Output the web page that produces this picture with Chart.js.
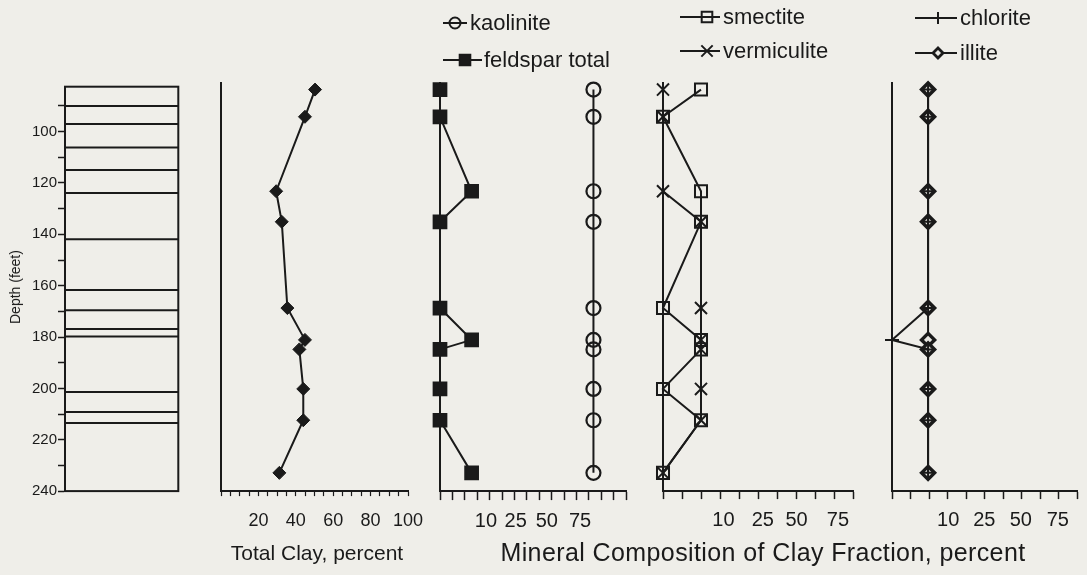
<!DOCTYPE html>
<html><head><meta charset="utf-8">
<script src="https://cdn.jsdelivr.net/npm/chart.js"></script>
<style>
html,body{margin:0;padding:0;background:#efeee9;}
#wrap{position:relative;width:1087px;height:575px;overflow:hidden;background:#efeee9;font-family:"Liberation Sans",Arial,Helvetica,sans-serif;color:#1a1a1a;}
canvas.panel{position:absolute;top:0;}
.t{position:absolute;white-space:nowrap;line-height:1;}
.leg{position:absolute;white-space:nowrap;font-size:22px;line-height:26px;height:26px;}
.leg canvas{position:absolute;left:0;top:0;}
.leg span{position:absolute;top:0;}
</style></head><body><div id="wrap"></div>
<script>
// ---------------- data ----------------
const sampleDepth   = [83.6, 94.2, 123.2, 135.1, 168.7, 181.1, 184.8, 200.2, 212.4, 232.9]; // feet
const totalClay     = [50.3, 44.9, 29.5, 32.5, 35.5, 44.9, 41.9, 44.0, 44.0, 31.2];
const feldsparTotal = [0, 0, 17, 0, 0, 17, 0, 0, 0, 17];
const kaolinite     = [82.5, 82.5, 82.5, 82.5, 82.5, 82.5, 82.5, 82.5, 82.5, 82.5];
const smectite      = [20, 0, 20, 20, 0, 20, 20, 0, 20, 0];
const vermiculite   = [0, 0, 0, 20, 20, 20, 20, 20, 20, 0];
const chlorite      = [19.5, 19.5, 19.5, 19.5, 19.5, 0, 19.5, 19.5, 19.5, 19.5];
const illite        = [19.5, 19.5, 19.5, 19.5, 19.5, 19.5, 19.5, 19.5, 19.5, 19.5];
const layerBoundaries = [90, 97, 106.2, 114.9, 123.9, 141.9, 161.7, 169.6, 176.9, 179.8, 201.4, 209.2, 213.5];
const depthTicks    = [90, 100, 110, 120, 130, 140, 150, 160, 170, 180, 190, 200, 210, 220, 230, 240];
const depthLabelled = [100, 120, 140, 160, 180, 200, 220, 240];
const clayTicks     = [0, 5, 10, 15, 20, 25, 30, 35, 40, 45, 50, 55, 60, 65, 70, 75, 80, 85, 90, 95, 100];
const clayLabelled  = [20, 40, 60, 80, 100];
const mineralTickLabels = ['10', '25', '50', '75'];
const panel1TickCount = 15, panel23TickCount = 10;
const panel1LabelPos = [24.7, 40.7, 57.4, 75.3];
const panel2LabelPos = [31.8, 52.5, 70.3, 92.1];
const panel3LabelPos = [30.4, 49.9, 69.6, 89.6];

// ---------------- style ----------------
const INK = '#1a1a1a';
const FONT = '"Liberation Sans", Arial, Helvetica, sans-serif';
Chart.defaults.font.family = FONT;
Chart.defaults.color = INK;
const wrap = document.getElementById('wrap');
const H = 575;
const AXIS_BOTTOM = 491.1;   // pixel row of depth 240

function pts(vals){ return sampleDepth.map((d,i)=>({x: vals[i], y: d})); }

function makePanel(o){
  const cl = o.area.l - o.padL, cr = o.area.r + o.padR;
  const cv = document.createElement('canvas');
  cv.className = 'panel';
  cv.width = cr - cl; cv.height = H;
  cv.style.left = cl + 'px';
  wrap.appendChild(cv);
  return new Chart(cv, {
    type: 'scatter',
    data: { datasets: o.datasets || [] },
    options: {
      responsive: false, animation: false, devicePixelRatio: 1,
      events: [],
      layout: { padding: { left: o.padL - (o.yW || 0), right: o.padR, top: o.area.t, bottom: H - o.area.b - (o.xH || 0) } },
      plugins: { legend: { display: false }, tooltip: { enabled: false } },
      scales: { x: o.x, y: o.y }
    },
    plugins: o.plugins || []
  });
}

function depthAxis(min, showTicks){
  return {
    type: 'linear', reverse: true, min: min, max: 240,
    afterFit: s => { s.width = showTicks ? 65 : 0; },
    afterBuildTicks: s => { s.ticks = depthTicks.map(v => ({ value: v })); },
    ticks: { display: showTicks, autoSkip: false, padding: 1, font: { size: 15 }, color: INK,
             callback: v => depthLabelled.includes(v) ? String(v) : '' },
    grid: { display: true, drawOnChartArea: false, drawTicks: showTicks, tickLength: 7, tickWidth: 1.5, tickColor: INK },
    border: { display: true, color: INK, width: 2 }
  };
}

function mineralX(count, labelPos, tickLen, pad){
  return {
    type: 'linear', min: 0, max: 100, position: 'bottom',
    afterFit: s => { s.height = 60; },
    afterBuildTicks: s => {
      const t = [];
      for (let i = 0; i <= count; i++) t.push({ value: i * 100 / count });
      labelPos.forEach((v, i) => t.push({ value: v, lbl: mineralTickLabels[i] }));
      t.sort((a, b) => a.value - b.value);
      s.ticks = t;
    },
    ticks: { autoSkip: false, maxRotation: 0, minRotation: 0, padding: pad, font: { size: 20 }, color: INK,
             callback: (v, i, t) => (t[i] && t[i].lbl) ? t[i].lbl : '' },
    grid: { display: true, drawOnChartArea: false, drawTicks: true, tickLength: tickLen, tickWidth: 1.5,
            tickColor: c => (c.tick && c.tick.lbl) ? 'rgba(0,0,0,0)' : INK },
    border: { display: true, color: INK, width: 2 }
  };
}

const lineDs = (label, vals, style, r, filled, extra) => Object.assign({
  label, data: pts(vals), showLine: true, clip: false,
  borderColor: INK, borderWidth: 2,
  pointStyle: style, pointRadius: r,
  pointBackgroundColor: filled ? INK : 'rgba(0,0,0,0)',
  pointBorderColor: INK, pointBorderWidth: 2
}, extra || {});

// -------- panel A: depth axis + lithology column --------
const lithPlugin = {
  id: 'lith',
  afterDraw(chart){
    const { ctx, chartArea: a, scales: { y } } = chart;
    ctx.save(); ctx.strokeStyle = INK; ctx.lineWidth = 2;
    ctx.strokeRect(a.left, a.top, a.right - a.left, a.bottom - a.top);
    layerBoundaries.forEach(d => {
      const p = y.getPixelForValue(d);
      ctx.beginPath(); ctx.moveTo(a.left, p); ctx.lineTo(a.right, p); ctx.stroke();
    });
    ctx.restore();
  }
};
makePanel({
  area: { l: 65, r: 178.3, t: 86.7, b: AXIS_BOTTOM }, padL: 65, padR: 21.7, yW: 65, xH: 0,
  x: { type: 'linear', display: false, min: 0, max: 1 },
  y: depthAxis(82.5, true),
  plugins: [lithPlugin]
});

// -------- panel B: total clay --------
makePanel({
  area: { l: 220.7, r: 408.3, t: 82.9, b: AXIS_BOTTOM }, padL: 30, padR: 30, yW: 0, xH: 60,
  datasets: [ lineDs('total clay', totalClay, 'rectRot', 6.5, true, { pointBorderWidth: 1 }) ],
  x: {
    type: 'linear', min: 0, max: 100, position: 'bottom',
    afterFit: s => { s.height = 60; },
    afterBuildTicks: s => { s.ticks = clayTicks.map(v => ({ value: v })); },
    ticks: { autoSkip: false, maxRotation: 0, padding: 14, font: { size: 18 }, color: INK,
             callback: v => clayLabelled.includes(v) ? String(v) : '' },
    grid: { display: true, drawOnChartArea: false, drawTicks: true, tickLength: 5, tickWidth: 1.2, tickColor: INK },
    border: { display: true, color: INK, width: 2 }
  },
  y: depthAxis(81, false)
});

// -------- panel C: feldspar + kaolinite --------
makePanel({
  area: { l: 440, r: 626, t: 82.9, b: AXIS_BOTTOM }, padL: 25, padR: 22, yW: 0, xH: 60,
  datasets: [
    lineDs('feldspar total', feldsparTotal, 'rect', 9, true),
    lineDs('kaolinite', kaolinite, 'circle', 7, false, { pointBorderWidth: 2.2 })
  ],
  x: mineralX(panel1TickCount, panel1LabelPos, 9, 9),
  y: depthAxis(81, false)
});

// -------- panel D: smectite + vermiculite --------
makePanel({
  area: { l: 662.7, r: 853.3, t: 82.9, b: AXIS_BOTTOM }, padL: 17, padR: 16, yW: 0, xH: 60,
  datasets: [
    lineDs('smectite', smectite, 'rect', 8.5, false),
    lineDs('vermiculite', vermiculite, 'crossRot', 8.5, false)
  ],
  x: mineralX(panel23TickCount, panel2LabelPos, 8, 9),
  y: depthAxis(81, false)
});

// -------- panel E: chlorite + illite --------
makePanel({
  area: { l: 891.7, r: 1083.3, t: 82.9, b: AXIS_BOTTOM }, padL: 21, padR: 3.7, yW: 0, xH: 60,
  datasets: [
    lineDs('chlorite', chlorite, 'cross', 7, false),
    lineDs('illite', illite, 'rectRot', 6.5, false, { pointBackgroundColor: '#e9e8e3', pointBorderWidth: 3.5 })
  ],
  x: mineralX(panel23TickCount, panel3LabelPos, 8, 9),
  y: depthAxis(81, false)
});

// ---------------- legends (HTML) ----------------
function drawMarker(ctx, style, x, y, r, fill){
  ctx.save(); ctx.strokeStyle = INK; ctx.fillStyle = fill ? INK : 'rgba(0,0,0,0)'; ctx.lineWidth = 2;
  ctx.beginPath();
  if (style === 'circle') { ctx.arc(x, y, r, 0, Math.PI * 2); if (fill) ctx.fill(); ctx.stroke(); }
  else if (style === 'rect') { const s = r * Math.SQRT1_2; ctx.rect(x - s, y - s, 2 * s, 2 * s); if (fill) ctx.fill(); ctx.stroke(); }
  else if (style === 'rectRot') { ctx.moveTo(x - r, y); ctx.lineTo(x, y - r); ctx.lineTo(x + r, y); ctx.lineTo(x, y + r); ctx.closePath();
    ctx.fillStyle = '#e9e8e3'; ctx.fill(); ctx.lineWidth = 2.8; ctx.stroke(); }
  else if (style === 'cross') { ctx.moveTo(x, y - r); ctx.lineTo(x, y + r); ctx.moveTo(x - r, y); ctx.lineTo(x + r, y); ctx.stroke(); }
  else if (style === 'crossRot') { const s = r * Math.SQRT1_2; ctx.moveTo(x - s, y - s); ctx.lineTo(x + s, y + s); ctx.moveTo(x + s, y - s); ctx.lineTo(x - s, y + s); ctx.stroke(); }
  ctx.restore();
}
const legendItems = [
  { text: 'kaolinite',      x: 443, y: 23, lineW: 24, mk: 12, textX: 27, style: 'circle',   r: 5.5, fill: false },
  { text: 'feldspar total', x: 443, y: 60, lineW: 39, mk: 22, textX: 41, style: 'rect',     r: 7.5, fill: true },
  { text: 'smectite',       x: 680, y: 17, lineW: 40, mk: 27, textX: 43, style: 'rect',     r: 7.5, fill: false },
  { text: 'vermiculite',    x: 680, y: 51, lineW: 40, mk: 27, textX: 43, style: 'crossRot', r: 8,   fill: false },
  { text: 'chlorite',       x: 915, y: 18, lineW: 42, mk: 23, textX: 45, style: 'cross',    r: 6,   fill: false },
  { text: 'illite',         x: 915, y: 53, lineW: 42, mk: 23, textX: 45, style: 'rectRot',  r: 5,   fill: false }
];
legendItems.forEach(it => {
  const d = document.createElement('div');
  d.className = 'leg';
  d.style.left = it.x + 'px'; d.style.top = (it.y - 13) + 'px';
  const c = document.createElement('canvas'); c.width = it.lineW + 2; c.height = 26;
  const cx = c.getContext('2d');
  cx.strokeStyle = INK; cx.lineWidth = 2;
  cx.beginPath(); cx.moveTo(0, 13); cx.lineTo(it.lineW, 13); cx.stroke();
  drawMarker(cx, it.style, it.mk, 13, it.r, it.fill);
  const s = document.createElement('span'); s.textContent = it.text; s.style.left = it.textX + 'px';
  d.appendChild(c); d.appendChild(s); wrap.appendChild(d);
});

// ---------------- axis titles (HTML) ----------------
function addText(txt, cx, cy, size, rot, spacing){
  const d = document.createElement('div');
  d.className = 't'; d.textContent = txt; d.style.fontSize = size + 'px';
  if (spacing) d.style.letterSpacing = spacing + 'px';
  d.style.left = cx + 'px'; d.style.top = cy + 'px';
  d.style.transform = 'translate(-50%,-50%)' + (rot ? ' rotate(-90deg)' : '');
  wrap.appendChild(d);
}
addText('Depth (feet)', 15, 287, 14, true);
addText('Total Clay, percent', 317, 552, 21, false);
addText('Mineral Composition of Clay Fraction, percent', 763, 552, 25, false, 0.4);
</script></body></html>
